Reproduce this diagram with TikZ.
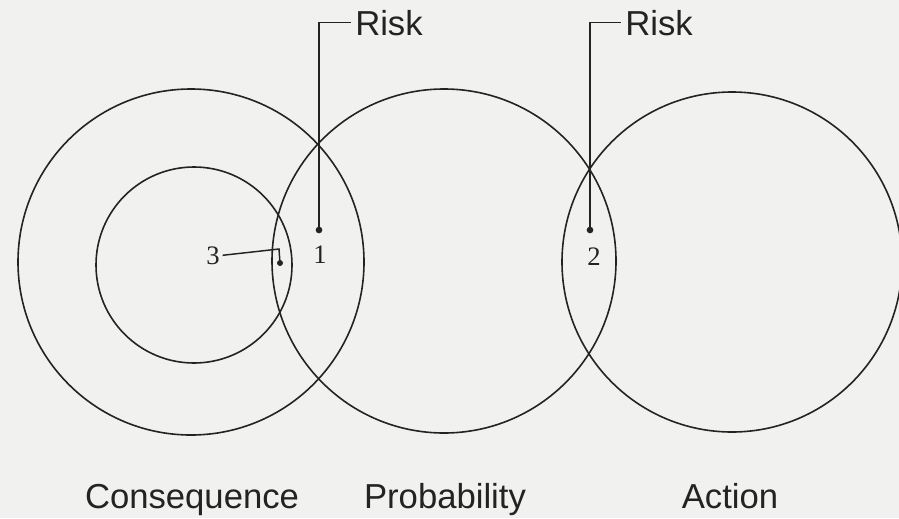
\documentclass[tikz,border=0pt]{standalone}
\usepackage{fontspec}
\setmainfont{Liberation Serif}
\newfontfamily\labfont{Liberation Sans}
\definecolor{bgc}{RGB}{241,241,239}
\definecolor{ink}{RGB}{35,35,35}
\begin{document}
\begin{tikzpicture}[x=0.75pt,y=-0.75pt,
  ring/.style={circle,draw=ink,line width=1.2pt,inner sep=0pt},
  dotn/.style={circle,fill=ink,inner sep=0pt,minimum size=5pt},
  leader/.style={draw=ink,line width=1.3pt},
  bigtxt/.style={text=ink,inner sep=0pt,font=\labfont\fontsize{26}{30}\selectfont},
  numtxt/.style={text=ink,inner sep=0pt,font=\fontsize{20}{24}\selectfont}]
\fill[bgc] (0,0) rectangle (899,518);
\useasboundingbox (0,0) rectangle (899,518);
% circles
\node[ring,minimum size=259.5pt] (cons) at (191,262) {};
\node[ring,minimum size=147pt] (inner) at (194,265) {};
\node[ring,minimum size=258pt] (prob) at (444,261) {};
\node[ring,minimum size=255pt] (act) at (732,262) {};
% risk leaders
\node[bigtxt,anchor=base west,inner xsep=3pt] (r1) at (351,35) {Risk};
\node[bigtxt,anchor=base west,inner xsep=3pt] (r2) at (621,35) {Risk};
\node[dotn] (d1) at (319,230) {};
\node[dotn] (d2) at (590,230) {};
\draw[leader] (d1.center) |- (r1.west);
\draw[leader] (d2.center) |- (r2.west);
% point labels
\node[numtxt,anchor=base] (n1) at (320,263) {1};
\node[numtxt,anchor=base] (n2) at (594,265) {2};
\node[numtxt,anchor=base,inner xsep=2pt] (n3) at (213,264) {3};
\node[dotn,minimum size=4.5pt] (d3) at (280,263) {};
\coordinate (k3) at (279,249);
\draw[leader,line width=1.1pt] (n3.east) -- (k3) -- (d3.center);
% axis labels
\node[bigtxt,anchor=base] (lc) at (192,508) {Consequence};
\node[bigtxt,anchor=base] (lp) at (445,508) {Probability};
\node[bigtxt,anchor=base] (la) at (730,508) {Action};
\end{tikzpicture}
\end{document}
